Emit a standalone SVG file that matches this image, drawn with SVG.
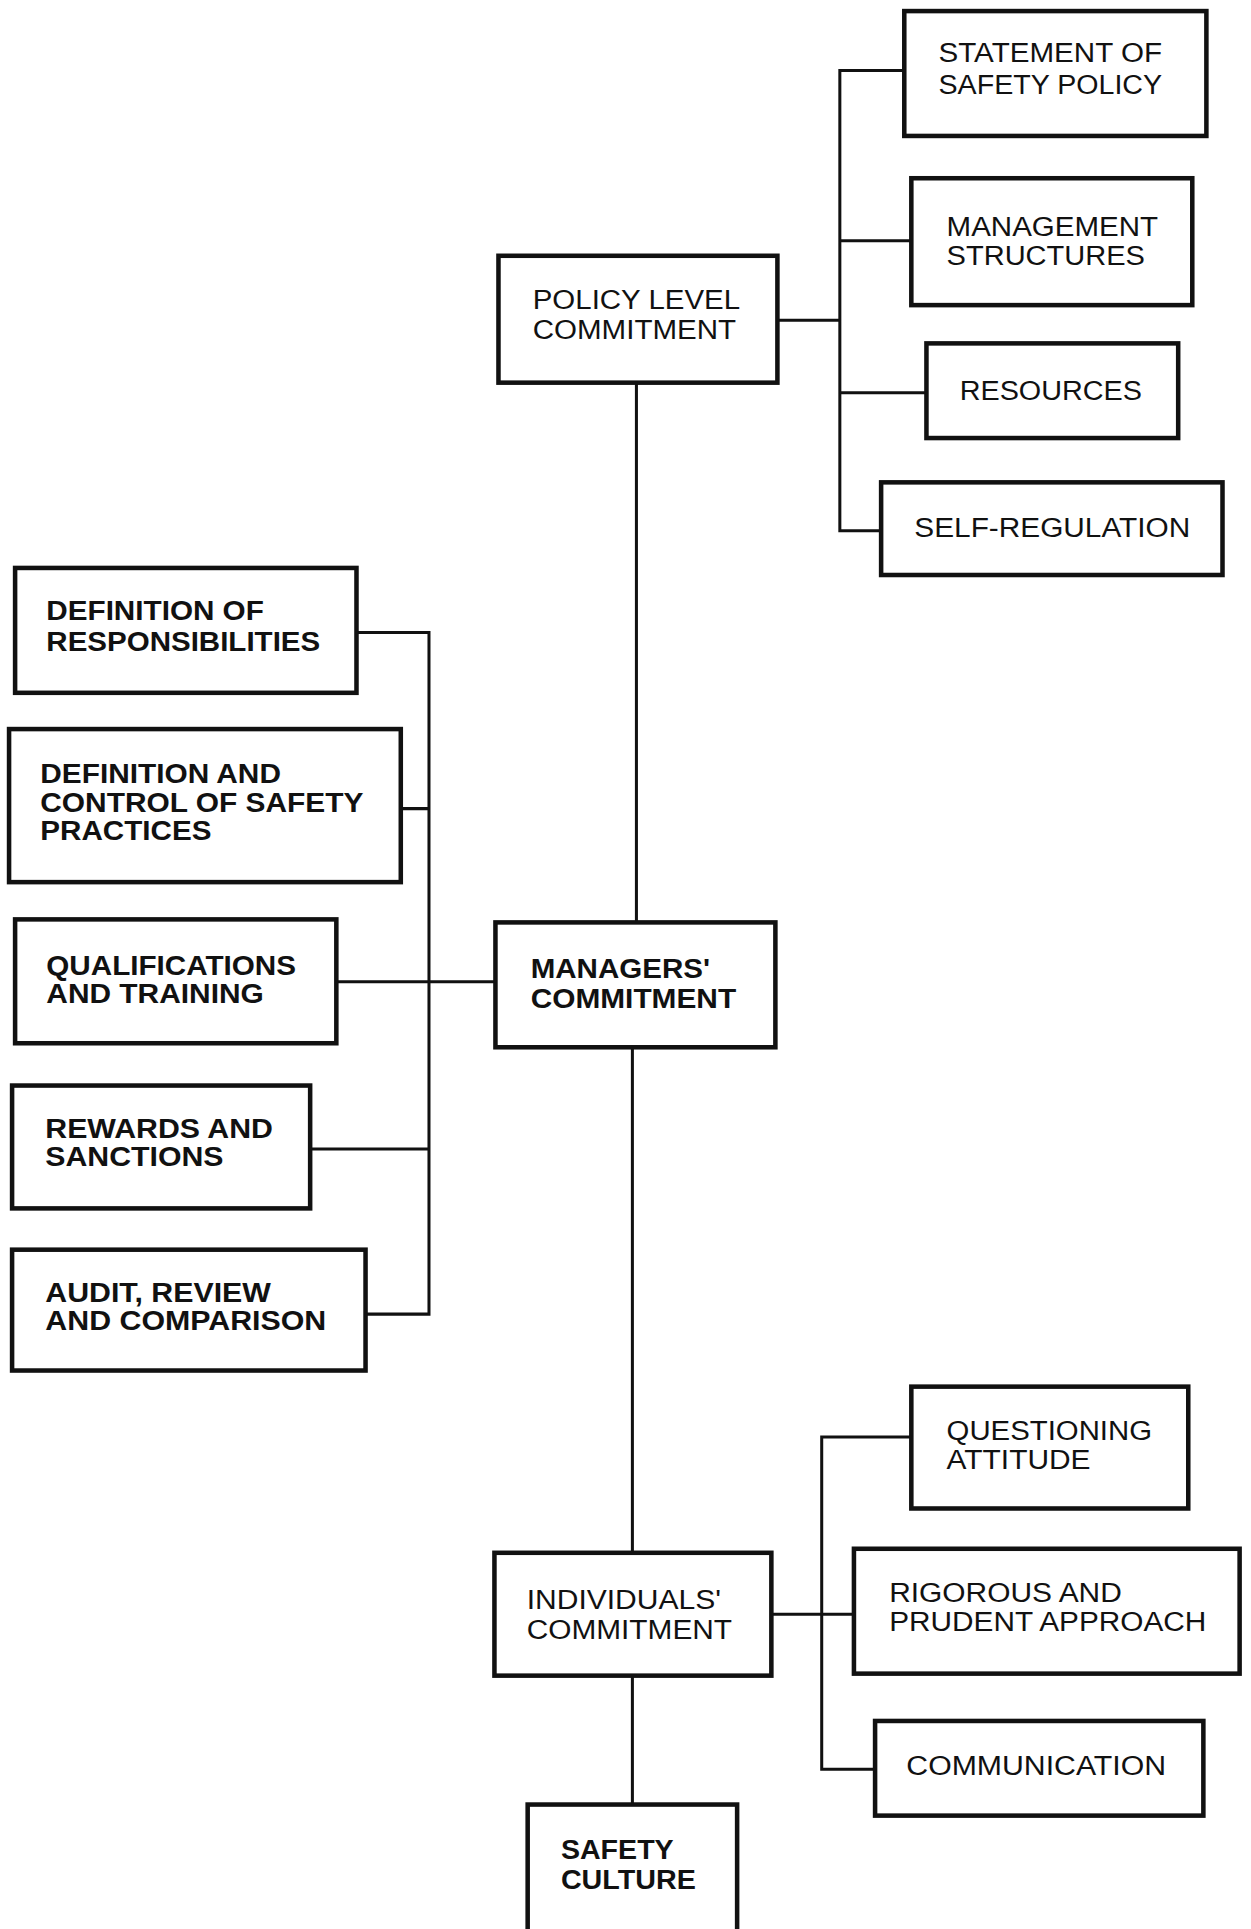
<svg xmlns="http://www.w3.org/2000/svg" width="1251" height="1929" viewBox="0 0 1251 1929">
<style>
.bx{fill:#fff;stroke:#111;stroke-width:4.5}
.ln{fill:none;stroke:#111;stroke-width:3;stroke-linecap:square}
text{font-family:"Liberation Sans",Arial,sans-serif;font-size:27px;fill:#111}
.b{font-weight:bold}
</style>
<rect x="0" y="0" width="1251" height="1929" fill="#fff"/>
<g id="diagram" transform="scale(1.007)">
<g id="connectors">
<path class="ln" d="M632 380V916M628 1040V1542M628 1664V1792"/>
<path class="ln" d="M772 318H834M834 70V527M834 70H898M834 239H905M834 390H920M834 527H875"/>
<path class="ln" d="M354 628H426M398 803H426M334 975H492M308 1141H426M363 1305H426M426 628V1305"/>
<path class="ln" d="M766 1603H848M816 1427V1757M816 1427H905M816 1757H869"/>
</g>
<g id="n-statement"><rect class="bx" x="898" y="11" width="300" height="124"/><text x="932" y="62" textLength="222" lengthAdjust="spacingAndGlyphs">STATEMENT OF</text><text x="932" y="93" textLength="222" lengthAdjust="spacingAndGlyphs">SAFETY POLICY</text></g>
<g id="n-management"><rect class="bx" x="905" y="177" width="279" height="126"/><text x="940" y="234" textLength="210" lengthAdjust="spacingAndGlyphs">MANAGEMENT</text><text x="940" y="263" textLength="197" lengthAdjust="spacingAndGlyphs">STRUCTURES</text></g>
<g id="n-resources"><rect class="bx" x="920" y="341" width="250" height="94"/><text x="953" y="397" textLength="181" lengthAdjust="spacingAndGlyphs">RESOURCES</text></g>
<g id="n-selfreg"><rect class="bx" x="875" y="479" width="339" height="92"/><text x="908" y="533" textLength="274" lengthAdjust="spacingAndGlyphs">SELF-REGULATION</text></g>
<g id="n-policy"><rect class="bx" x="495" y="254" width="277" height="126"/><text x="529" y="307" textLength="206" lengthAdjust="spacingAndGlyphs">POLICY LEVEL</text><text x="529" y="337" textLength="202" lengthAdjust="spacingAndGlyphs">COMMITMENT</text></g>
<g id="n-defresp"><rect class="bx" x="15" y="564" width="339" height="124"/><text class="b" x="46" y="616" textLength="216" lengthAdjust="spacingAndGlyphs">DEFINITION OF</text><text class="b" x="46" y="646" textLength="272" lengthAdjust="spacingAndGlyphs">RESPONSIBILITIES</text></g>
<g id="n-defcontrol"><rect class="bx" x="9" y="724" width="389" height="152"/><text class="b" x="40" y="778" textLength="239" lengthAdjust="spacingAndGlyphs">DEFINITION AND</text><text class="b" x="40" y="806" textLength="321" lengthAdjust="spacingAndGlyphs">CONTROL OF SAFETY</text><text class="b" x="40" y="834" textLength="170" lengthAdjust="spacingAndGlyphs">PRACTICES</text></g>
<g id="n-qualif"><rect class="bx" x="15" y="913" width="319" height="123"/><text class="b" x="46" y="968" textLength="248" lengthAdjust="spacingAndGlyphs">QUALIFICATIONS</text><text class="b" x="46" y="996" textLength="216" lengthAdjust="spacingAndGlyphs">AND TRAINING</text></g>
<g id="n-rewards"><rect class="bx" x="12" y="1078" width="296" height="122"/><text class="b" x="45" y="1130" textLength="226" lengthAdjust="spacingAndGlyphs">REWARDS AND</text><text class="b" x="45" y="1158" textLength="177" lengthAdjust="spacingAndGlyphs">SANCTIONS</text></g>
<g id="n-audit"><rect class="bx" x="12" y="1241" width="351" height="120"/><text class="b" x="45" y="1293" textLength="224" lengthAdjust="spacingAndGlyphs">AUDIT, REVIEW</text><text class="b" x="45" y="1321" textLength="279" lengthAdjust="spacingAndGlyphs">AND COMPARISON</text></g>
<g id="n-managers"><rect class="bx" x="492" y="916" width="278" height="124"/><text class="b" x="527" y="971" textLength="178" lengthAdjust="spacingAndGlyphs">MANAGERS'</text><text class="b" x="527" y="1001" textLength="204" lengthAdjust="spacingAndGlyphs">COMMITMENT</text></g>
<g id="n-individuals"><rect class="bx" x="491" y="1542" width="275" height="122"/><text x="523" y="1598" textLength="193" lengthAdjust="spacingAndGlyphs">INDIVIDUALS'</text><text x="523" y="1628" textLength="204" lengthAdjust="spacingAndGlyphs">COMMITMENT</text></g>
<g id="n-questioning"><rect class="bx" x="905" y="1377" width="275" height="121"/><text x="940" y="1430" textLength="204" lengthAdjust="spacingAndGlyphs">QUESTIONING</text><text x="940" y="1459" textLength="143" lengthAdjust="spacingAndGlyphs">ATTITUDE</text></g>
<g id="n-rigorous"><rect class="bx" x="848" y="1538" width="383" height="124"/><text x="883" y="1591" textLength="231" lengthAdjust="spacingAndGlyphs">RIGOROUS AND</text><text x="883" y="1620" textLength="315" lengthAdjust="spacingAndGlyphs">PRUDENT APPROACH</text></g>
<g id="n-communication"><rect class="bx" x="869" y="1709" width="326" height="94"/><text x="900" y="1763" textLength="258" lengthAdjust="spacingAndGlyphs">COMMUNICATION</text></g>
<g id="n-safetyculture"><rect class="bx" x="524" y="1792" width="208" height="150"/><text class="b" x="557" y="1846" textLength="112" lengthAdjust="spacingAndGlyphs">SAFETY</text><text class="b" x="557" y="1876" textLength="134" lengthAdjust="spacingAndGlyphs">CULTURE</text></g>
</g>
</svg>
